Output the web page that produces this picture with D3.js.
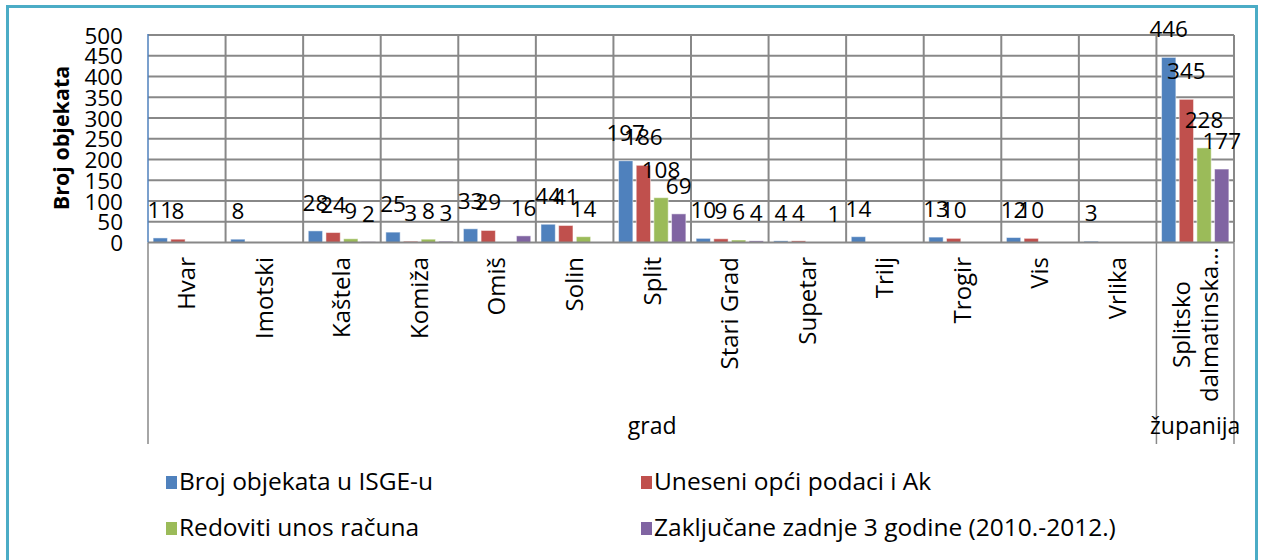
<!DOCTYPE html>
<html>
<head>
<meta charset="utf-8">
<script src="https://cdn.jsdelivr.net/npm/d3@7"></script>
<style>
  body { margin: 0; background: #fff; }
  svg text { font-family: 'Open Sans', sans-serif; fill: #000; }
</style>
</head>
<body>
<svg id="chart" width="1261" height="560"></svg>
<script>
// chart data
var categories = ['Hvar', 'Imotski', 'Kaštela', 'Komiža', 'Omiš', 'Solin', 'Split',
  'Stari Grad', 'Supetar', 'Trilj', 'Trogir', 'Vis', 'Vrlika', 'Splitsko|dalmatinska…']
var groupNames = ['grad', 'županija']
var groupSizes = [13, 1]
var seriesNames = ['Broj objekata u ISGE-u', 'Uneseni opći podaci i Ak',
  'Redoviti unos računa', 'Zaključane zadnje 3 godine (2010.-2012.)']
var brojObjekata = [11, 8, 28, 25, 33, 44, 197, 10, 4, 14, 13, 12, 3, 446]
var uneseniPodaci = [8, null, 24, 3, 29, 41, 186, 9, 4, null, 10, 10, null, 345]
var redovitiUnos = [null, null, 9, 8, null, 14, 108, 6, null, null, null, null, null, 228]
var zakljucane = [null, null, 2, 3, 16, null, 69, 4, 1, null, null, null, null, 177]
var yTicks = [0, 50, 100, 150, 200, 250, 300, 350, 400, 450, 500]
var colors = ['#4f81bd', '#c0504d', '#9bbb59', '#8064a2']

var seriesValues = [brojObjekata, uneseniPodaci, redovitiUnos, zakljucane]

var svg = d3.select('#chart')
var plotLeft = 148, plotRight = 1234, plotTop = 35, plotBottom = 242.5
var gridColor = '#888888'

// outer frame
svg.append('rect')
  .attr('x', 7.5).attr('y', 6.5)
  .attr('width', 1249).attr('height', 570)
  .attr('fill', 'none')
  .attr('stroke', '#4bacc6')
  .attr('stroke-width', 3)

var x = d3.scaleBand().domain(d3.range(categories.length)).range([plotLeft, plotRight])
var xs = d3.scaleBand().domain(d3.range(4)).range([0, x.bandwidth()])
  .paddingInner(0.19).paddingOuter(0.29)
var y = d3.scaleLinear().domain([0, 500]).range([plotBottom, plotTop])

var grid = svg.append('g')

// horizontal grid
grid.selectAll('line.h')
  .data(yTicks.slice(1))
  .enter().append('line')
  .attr('x1', plotLeft).attr('x2', plotRight)
  .attr('y1', function (d) { return y(d) }).attr('y2', function (d) { return y(d) })
  .attr('stroke', gridColor).attr('stroke-width', 2)

// vertical grid at category boundaries
grid.selectAll('line.v')
  .data(d3.range(1, categories.length + 1))
  .enter().append('line')
  .attr('x1', function (i) { return plotLeft + i * x.step() })
  .attr('x2', function (i) { return plotLeft + i * x.step() })
  .attr('y1', plotTop).attr('y2', plotBottom)
  .attr('stroke', gridColor).attr('stroke-width', 2)

// y axis tick labels
var yAxis = svg.append('g')
  .attr('transform', 'translate(' + (plotLeft - 25) + ',0)')
  .call(d3.axisLeft(y).tickValues(yTicks).tickSize(0).tickPadding(0))
yAxis.select('.domain').remove()
yAxis.selectAll('text')
  .style('font-family', "'Open Sans', sans-serif")
  .style('font-size', '22.5px')
  .attr('dy', '0.36em')

svg.append('text')
  .attr('transform', 'translate(60,138) rotate(-90)')
  .attr('text-anchor', 'middle')
  .attr('dominant-baseline', 'central')
  .style('font-weight', 'bold')
  .style('font-size', '21.5px')
  .text('Broj objekata')

// bars
var bars = svg.append('g')
seriesValues.forEach(function (vals, s) {
  var g = bars.append('g')
  var data = vals.map(function (v, i) { return { i: i, v: v } })
    .filter(function (d) { return d.v !== null })

  g.selectAll('rect')
    .data(data)
    .enter().append('rect')
    .attr('x', function (d) { return x(d.i) + xs(s) })
    .attr('y', function (d) { return y(d.v) })
    .attr('width', xs.bandwidth())
    .attr('height', function (d) { return plotBottom - y(d.v) })
    .attr('fill', colors[s])
    .attr('stroke', '#fff')
    .attr('stroke-opacity', 0.5)
    .attr('stroke-width', 1)

  g.selectAll('text')
    .data(data)
    .enter().append('text')
    .attr('x', function (d) { return x(d.i) + xs(s) + xs.bandwidth() / 2 })
    .attr('y', function (d) { return y(d.v) - 20 })
    .attr('text-anchor', 'middle')
    .style('font-size', '22.5px')
    .text(function (d) { return d.v })
})

// category axis line and separators
svg.append('line')
  .attr('x1', plotLeft).attr('x2', plotRight).attr('y1', plotBottom).attr('y2', plotBottom)
  .attr('stroke', gridColor).attr('stroke-width', 2)

svg.append('line')
  .attr('x1', plotLeft).attr('x2', plotLeft).attr('y1', plotTop - 1).attr('y2', plotBottom)
  .attr('stroke', '#4f81bd').attr('stroke-width', 1.5)

var sepIdx = [0]
groupSizes.reduce(function (acc, n) { sepIdx.push(acc + n); return acc + n }, 0)
svg.selectAll('line.sep')
  .data(sepIdx)
  .enter().append('line')
  .attr('x1', function (i) { return plotLeft + i * x.step() })
  .attr('x2', function (i) { return plotLeft + i * x.step() })
  .attr('y1', plotBottom).attr('y2', 444)
  .attr('stroke', gridColor).attr('stroke-width', 1.5)

// category labels, rotated, ending just under the axis
svg.selectAll('text.cat')
  .data(categories)
  .enter().append('text')
  .attr('class', 'cat')
  .style('font-size', '24px')
  .attr('text-anchor', 'middle')
  .attr('transform', function (d, i) {
    var cx = x(i) + x.bandwidth() / 2
    return 'translate(' + cx + ',0) rotate(-90)'
  })
  .each(function (d) {
    var t = d3.select(this)
    var lines = d.split('|')
    lines.forEach(function (l, k) {
      t.append('tspan')
        .attr('y', (k - (lines.length - 1) / 2) * 28)
        .attr('dy', '0.35em')
        .text(l)
    })
    var maxw = 0
    t.selectAll('tspan').each(function () {
      maxw = Math.max(maxw, this.getComputedTextLength())
    })
    var topY = lines.length > 1 ? 247 : 257
    t.selectAll('tspan').attr('x', -topY - maxw / 2)
  })

// group labels
var acc = 0
groupNames.forEach(function (name, k) {
  var x0 = plotLeft + acc * x.step()
  acc += groupSizes[k]
  var x1 = plotLeft + acc * x.step()
  svg.append('text')
    .attr('x', (x0 + x1) / 2)
    .attr('y', 434)
    .attr('text-anchor', 'middle')
    .style('font-size', '23px')
    .text(name)
})

// legend
var legendPos = [[166, 476], [641, 476], [166, 522], [641, 522]]
seriesNames.forEach(function (name, s) {
  var g = svg.append('g')
    .attr('transform', 'translate(' + legendPos[s][0] + ',' + legendPos[s][1] + ')')
  g.append('rect')
    .attr('width', 11).attr('height', 13)
    .attr('fill', colors[s])
  g.append('text')
    .attr('x', 13).attr('y', 14)
    .style('font-size', '24.5px')
    .text(name)
})
</script>
</body>
</html>
